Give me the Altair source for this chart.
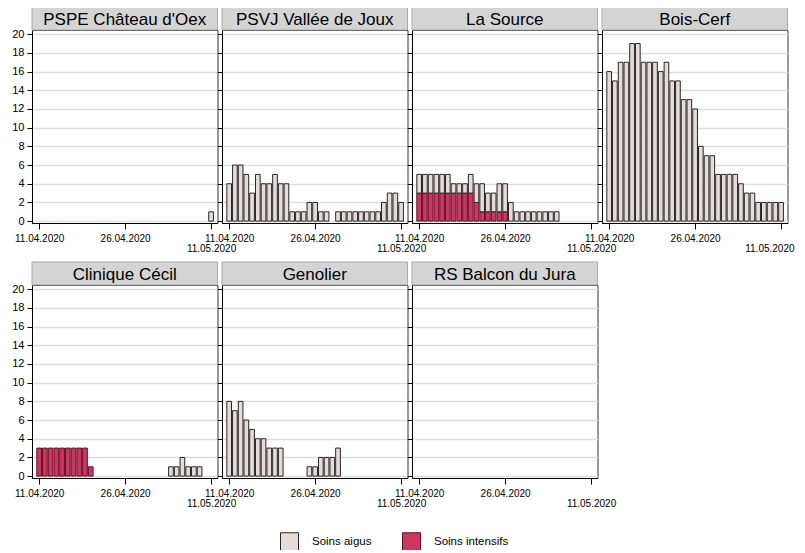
import altair as alt
import pandas as pd

# ---------------- data ----------------
hospitals = ["PSPE Château d'Oex", "PSVJ Vallée de Joux", "La Source", "Bois-Cerf",
             "Clinique Cécil", "Genolier", "RS Balcon du Jura"]
first_day = "2020-04-11"   # 31 daily values: 11.04.2020 ... 11.05.2020
n_days = 31

aigus = {
    "PSPE Château d'Oex": [0, 0, 0, 0, 0, 0, 0, 0, 0, 0, 0, 0, 0, 0, 0, 0, 0, 0, 0, 0, 0, 0, 0, 0, 0, 0, 0, 0, 0, 0, 1],
    "PSVJ Vallée de Joux": [4, 6, 6, 5, 3, 5, 4, 4, 5, 4, 4, 1, 1, 1, 2, 2, 1, 1, 0, 1, 1, 1, 1, 1, 1, 1, 1, 2, 3, 3, 2],
    "La Source": [2, 2, 2, 2, 2, 2, 1, 1, 1, 2, 2, 3, 2, 2, 3, 3, 2, 1, 1, 1, 1, 1, 1, 1, 1, 0, 0, 0, 0, 0, 0],
    "Bois-Cerf": [16, 15, 17, 17, 19, 19, 17, 17, 17, 16, 17, 15, 15, 13, 13, 12, 8, 7, 7, 5, 5, 5, 5, 4, 3, 3, 2, 2, 2, 2, 2],
    "Clinique Cécil": [0, 0, 0, 0, 0, 0, 0, 0, 0, 0, 0, 0, 0, 0, 0, 0, 0, 0, 0, 0, 0, 0, 0, 1, 1, 2, 1, 1, 1, 0, 0],
    "Genolier": [8, 7, 8, 6, 5, 4, 4, 3, 3, 3, 0, 0, 0, 0, 1, 1, 2, 2, 2, 3, 0, 0, 0, 0, 0, 0, 0, 0, 0, 0, 0],
    "RS Balcon du Jura": [0] * 31,
}
intensifs = {
    "PSPE Château d'Oex": [0] * 31,
    "PSVJ Vallée de Joux": [0] * 31,
    "La Source": [3, 3, 3, 3, 3, 3, 3, 3, 3, 3, 2, 1, 1, 1, 1, 1, 0, 0, 0, 0, 0, 0, 0, 0, 0, 0, 0, 0, 0, 0, 0],
    "Bois-Cerf": [0] * 31,
    "Clinique Cécil": [3, 3, 3, 3, 3, 3, 3, 3, 3, 1, 0, 0, 0, 0, 0, 0, 0, 0, 0, 0, 0, 0, 0, 0, 0, 0, 0, 0, 0, 0, 0],
    "Genolier": [0] * 31,
    "RS Balcon du Jura": [0] * 31,
}
types = ["Soins aigus", "Soins intensifs"]
tick_dates = [(2020, 4, 11), (2020, 4, 26), (2020, 5, 11)]

# ---------------- table ----------------
days = pd.date_range(first_day, periods=n_days, freq="D")
half = pd.Timedelta(hours=9.8)
fmt = "%Y-%m-%dT%H:%M:%S"
rows = []
for h in hospitals:
    for i, d in enumerate(days):
        icu = intensifs[h][i]
        ac = aigus[h][i]
        s, e = (d - half).strftime(fmt), (d + half).strftime(fmt)
        if icu > 0:
            rows.append(dict(hopital=h, type=types[1], start=s, end=e, y0=0, y1=icu))
        if ac > 0:
            rows.append(dict(hopital=h, type=types[0], start=s, end=e, y0=icu, y1=icu + ac))
df = pd.DataFrame(rows)

# ---------------- styling ----------------
W, H, HH = 185.5, 193, 23
FONT = "Liberation Sans"
# Vega datetime(): month is 0-based -> 3 = April
LAST_TEST = "+datum.value > +datetime(2020, 3, 30)"

xscale = alt.Scale(domain=[alt.DateTime(year=2020, month=4, date=9, hours=18),
                           alt.DateTime(year=2020, month=5, date=12, hours=3)])
yscale = alt.Scale(domain=[-0.2, 20.45], nice=False, zero=False)


def xaxis(at_right_edge):
    extra = {}
    if at_right_edge:
        # keep the last label inside the page at the right edge
        extra = dict(
            labelAlign={"condition": {"test": LAST_TEST, "value": "right"}, "value": "center"},
            labelOffset={"condition": {"test": LAST_TEST, "value": 13}, "value": 0},
        )
    return alt.Axis(
        title=None, grid=False, format="%d.%m.%Y",
        values=[alt.DateTime(year=y, month=m, date=d) for (y, m, d) in tick_dates],
        labelExpr="datum.label == '11.05.2020' ? ['', datum.label] : datum.label",
        labelFlush=False, labelOverlap=False, labelBound=False,
        labelFontSize=10, labelLineHeight=10, labelPadding=4, tickSize=6,
        domainColor="black", tickColor="black", labelColor="black",
        **extra,
    )


def yaxis(show):
    return alt.Axis(
        title=None, values=list(range(0, 21, 2)), labels=show,
        grid=True, gridColor="#dedede", gridWidth=1.5,
        labelFontSize=11, labelPadding=3, tickSize=5,
        domainColor="black", tickColor="black", labelColor="black",
    )


legend = alt.Legend(
    title=None, orient="none", direction="horizontal", legendX=248, legendY=502,
    symbolType="square", symbolSize=324, symbolStrokeWidth=1, symbolOpacity=1,
    labelFontSize=11.5, labelOffset=13, columnPadding=28, padding=0, labelColor="black",
)
fill_scale = alt.Scale(domain=types, range=["#e5dcd9", "#cc3660"])
stroke_scale = alt.Scale(domain=types, range=["#262626", "#5e1027"])


def panel(idx, name):
    show = idx % 4 == 0
    bars = alt.Chart(df).transform_filter(
        alt.FieldEqualPredicate(field="hopital", equal=name)
    ).mark_bar(strokeWidth=1).encode(
        x=alt.X("start:T", scale=xscale, axis=xaxis(idx == 3)),
        x2="end:T",
        y=alt.Y("y0:Q", scale=yscale, axis=yaxis(show)),
        y2="y1:Q",
        fill=alt.Fill("type:N", scale=fill_scale, legend=legend),
        stroke=alt.Stroke("type:N", scale=stroke_scale, legend=legend),
    )
    hdr = alt.Data(values=[{"name": name}])
    box = alt.Chart(hdr).mark_rect(fill="#d4d4d4", stroke="#ababab", strokeWidth=1).encode(
        x=alt.value(0), x2=alt.value(W), y=alt.value(-HH), y2=alt.value(0)
    )
    txt = alt.Chart(hdr).mark_text(fontSize=17, font=FONT, color="black",
                                   align="center", baseline="middle").encode(
        x=alt.value(W / 2), y=alt.value(-HH / 2 + 1), text="name:N"
    )
    return alt.layer(bars, box, txt).properties(width=W, height=H)


chart = alt.concat(
    *[panel(i, h) for i, h in enumerate(hospitals)],
    columns=4, spacing={"row": 62, "column": 4}, bounds="flush",
).properties(
    autosize=alt.AutoSizeParams(type="none"),
    padding={"left": 24, "top": 22, "right": 765, "bottom": 520},
).configure(font=FONT).configure_view(stroke="#333333", strokeWidth=1)

chart.save("out.html", embed_options={"renderer": "svg", "actions": False})
